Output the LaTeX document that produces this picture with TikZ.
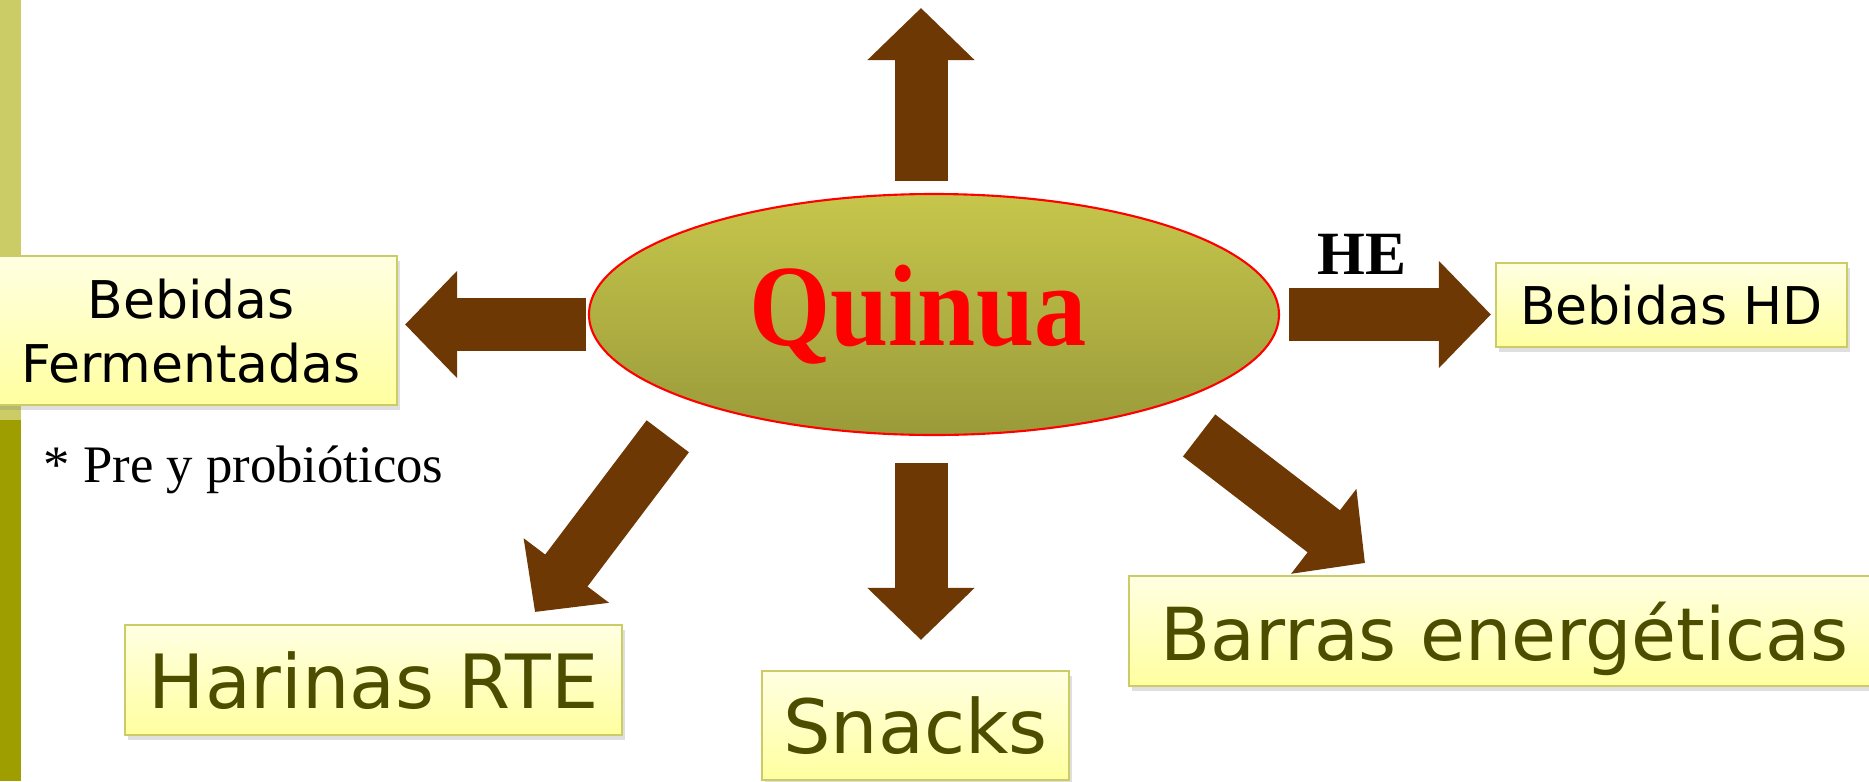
\documentclass[tikz,border=0pt]{standalone}
\usepackage{fontspec}
\setmainfont{Liberation Serif}
\newfontfamily\verdana{DejaVu Sans}
\newfontfamily\quinuafont[FakeStretch=0.9]{Liberation Serif}
\usetikzlibrary{arrows.meta, shapes.geometric, shadows}

\definecolor{barlight}{RGB}{204,204,102}
\definecolor{bardark}{RGB}{158,158,0}
\definecolor{boxline}{RGB}{204,204,102}
\definecolor{boxtop}{RGB}{255,255,226}
\definecolor{boxbot}{RGB}{255,255,160}
\definecolor{olivetext}{RGB}{77,77,0}
\definecolor{ellipsetop}{RGB}{198,198,76}
\definecolor{ellipsebot}{RGB}{154,154,58}
\definecolor{arrowbrown}{RGB}{110,56,4}

\begin{document}
\begin{tikzpicture}[x=1cm,y=1cm,
    box/.style={draw=boxline, line width=0.6pt, top color=boxtop, bottom color=boxbot,
        inner sep=0pt, align=center, text depth=0pt,
        drop shadow={opacity=0.25, shadow xshift=0.03cm, shadow yshift=-0.05cm}},
    smalltext/.style={font=\verdana\fontsize{14.8}{18.2}\selectfont},
    bigtext/.style={font=\verdana\fontsize{21.3}{25}\selectfont, text=olivetext},
    bigarrow/.style={draw=arrowbrown, line width=0.53cm, -{Triangle[width=1.04cm, length=0.52cm]}}]
    \useasboundingbox (0,0) rectangle (18.69,7.81);
    \fill[white] (0,0) rectangle (18.69,7.81);
    \fill[barlight] (0,3.61) rectangle (0.21,7.81);
    \fill[bardark] (0,0) rectangle (0.21,3.61);
    \node[ellipse, draw=red, line width=0.6pt, top color=ellipsetop, bottom color=ellipsebot,
        minimum width=6.9cm, minimum height=2.41cm, inner sep=0pt, text=red,
        font=\quinuafont\bfseries\fontsize{33}{33}\selectfont] (quinua) at (9.34,4.665) {Quinua\hspace*{0.32cm}};
    \node[box, smalltext, minimum width=4.12cm, minimum height=1.49cm] (fe) at (1.91,4.505) {Bebidas\\ Fermentadas};
    \node[anchor=base west, inner sep=0pt, font=\fontsize{15}{18}\selectfont] (pre) at (0.43,2.99) {* Pre y probióticos};
    \node[box, smalltext, minimum width=3.51cm, minimum height=0.84cm] (hd) at (16.715,4.76) {Bebidas HD};
    \node[inner sep=0pt, font=\bfseries\fontsize{17.5}{20}\selectfont] (he) at (13.62,5.27) {HE};
    \node[box, bigtext, minimum width=4.97cm, minimum height=1.10cm] (harinas) at (3.735,1.01) {Harinas RTE};
    \node[box, bigtext, minimum width=3.07cm, minimum height=1.09cm] (snacks) at (9.155,0.555) {Snacks};
    \node[box, bigtext, font=\verdana\fontsize{20.8}{25}\selectfont, minimum width=7.51cm, minimum height=1.10cm] (barras) at (15.045,1.50) {Barras energéticas};
    \coordinate (topend) at (9.21,7.73);
    \coordinate (hartip) at (5.35,1.69);
    \coordinate (bartip) at (13.65,2.18);
    \draw[bigarrow, shorten <=0.12cm] (quinua.north -| topend) -- (topend);
    \draw[bigarrow, shorten <=0.27cm, shorten >=0.30cm] (quinua.south -| topend) -- (snacks.north -| topend);
    \draw[bigarrow, shorten <=0.09cm, shorten >=0.04cm] (quinua.east) -- (quinua.east -| hd.west);
    \draw[bigarrow, shorten <=0.02cm, shorten >=0.07cm] ([yshift=-0.1cm]quinua.west) -- ([yshift=-0.1cm]quinua.west -| fe.east);
    \draw[bigarrow, shorten <=0.43cm] (quinua.200) -- (hartip);
    \draw[bigarrow, shorten <=0.48cm] (quinua.338) -- (bartip);
\end{tikzpicture}
\end{document}
